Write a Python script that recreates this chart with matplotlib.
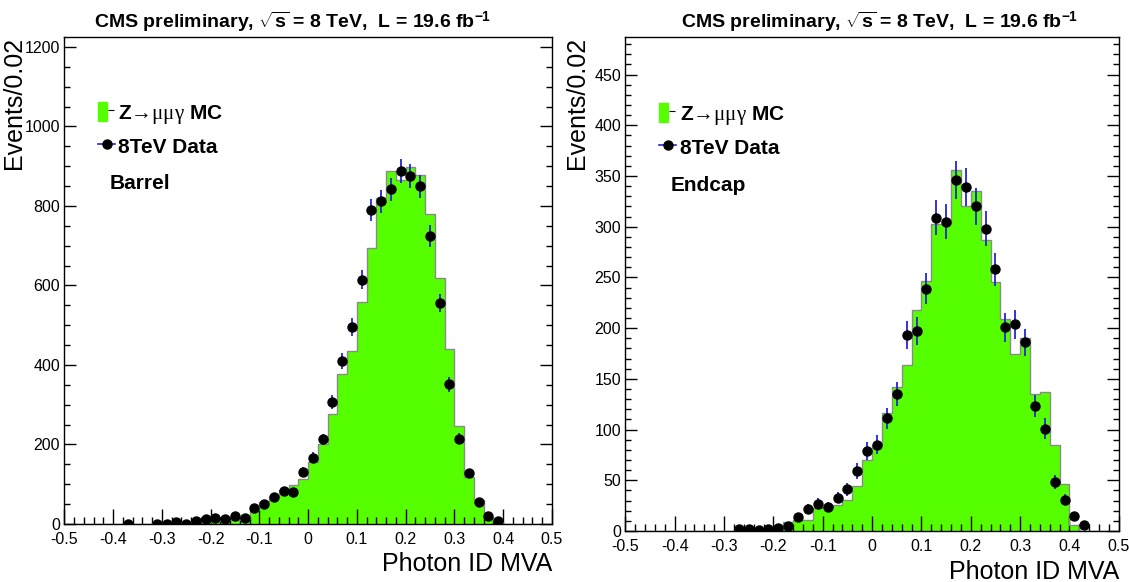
import numpy as np
import matplotlib
matplotlib.use('Agg')
import matplotlib.pyplot as plt
from matplotlib.ticker import MultipleLocator, FuncFormatter
from matplotlib.patches import Patch
from matplotlib.lines import Line2D
from matplotlib.legend_handler import HandlerTuple

plt.rcParams['font.family'] = ['Liberation Sans', 'DejaVu Sans']
plt.rcParams['axes.unicode_minus'] = False
plt.rcParams['mathtext.fontset'] = 'custom'
plt.rcParams['mathtext.rm'] = 'Liberation Serif'
plt.rcParams['mathtext.it'] = 'Liberation Serif:italic'
plt.rcParams['mathtext.bf'] = 'Liberation Sans:bold'

# 50 bins of width 0.02 on [-0.5, 0.5]
edges = np.linspace(-0.5, 0.5, 51)
centers = 0.5 * (edges[1:] + edges[:-1])

# barrel: Z->mumugamma MC and 2012 data, events per bin
mc_barrel = [0, 0, 0, 0, 0, 0, 1, 1, 1, 2,
             2, 3, 4, 5, 6, 8, 9, 10, 12, 35,
             56, 68, 86, 99, 114, 155, 200, 276, 378, 435,
             559, 695, 819, 889, 865, 897, 878, 780, 620, 441,
             246, 118, 60, 14, 6, 0, 0, 0, 0, 0]
data_barrel = [0, 0, 0, 0, 0, 0, 1, 0, 0, 1,
               1, 6, 1, 8, 12, 15, 12, 21, 16, 41,
               50, 69, 82, 81, 132, 167, 213, 306, 410, 495,
               615, 789, 812, 842, 888, 876, 849, 724, 556, 352,
               215, 127, 56, 19, 8, 0, 0, 0, 0, 0]

# endcap
mc_endcap = [0, 0, 0, 0, 0, 0, 0, 0, 0, 0,
             0, 0, 0, 0, 0, 0, 9, 11, 11, 23,
             24, 26, 31, 44, 70, 85, 116, 142, 164, 218,
             246, 303, 303, 356, 320, 335, 287, 245, 209, 175,
             190, 135, 137, 85, 46, 6, 0, 0, 0, 0]
data_endcap = [0, 0, 0, 0, 0, 0, 0, 0, 0, 0,
               0, 2, 2, 1, 2, 3, 5, 14, 22, 27,
               24, 33, 41, 59, 79, 85, 111, 135, 193, 197,
               239, 309, 305, 346, 339, 320, 298, 258, 201, 204,
               186, 123, 101, 48, 31, 15, 6, 0, 0, 0]

regions = ['Barrel', 'Endcap']
mc_sets = [mc_barrel, mc_endcap]
data_sets = [data_barrel, data_endcap]
ymax = [1225, 487]
ymajor = [200, 50]
yminor = [50, 10]

title = r'CMS preliminary, $\sqrt{\mathbf{s}}$ = 8 TeV,  L = 19.6 fb$^{\mathbf{-1}}$'
mc_label = r'$\mathbf{Z}\mathrm{→μμγ}$ MC'
data_label = '8TeV Data'

green = '#55ff00'
blue = '#2424d8'

fig = plt.figure(figsize=(11.29, 5.82), dpi=100)
axes_pos = [[0.0570, 0.0997, 0.4318, 0.8367],
            [0.5539, 0.0876, 0.4371, 0.8488]]
ylab_x = [-0.079, -0.074]
title_x = [0.2595, 0.779]

for k in range(2):
    ax = fig.add_axes(axes_pos[k])
    mc = np.array(mc_sets[k], dtype=float)
    data = np.array(data_sets[k], dtype=float)

    ax.stairs(mc, edges, fill=True, color=green, zorder=1)
    ax.stairs(mc, edges, color='#8a8a8a', lw=1.0, zorder=2)

    sel = data > 0
    ax.errorbar(centers[sel], data[sel], yerr=np.sqrt(data[sel]), fmt='o',
                color='black', ecolor=blue, elinewidth=1.3, markersize=6.5,
                capsize=0, zorder=3)

    ax.set_xlim(-0.5, 0.5)
    ax.set_ylim(0, ymax[k])
    ax.xaxis.set_major_locator(MultipleLocator(0.1))
    ax.xaxis.set_minor_locator(MultipleLocator(0.02))
    ax.yaxis.set_major_locator(MultipleLocator(ymajor[k]))
    ax.yaxis.set_minor_locator(MultipleLocator(yminor[k]))
    ax.xaxis.set_major_formatter(FuncFormatter(lambda v, p: '%g' % round(v, 2)))
    ax.tick_params(axis='x', which='both', direction='in', bottom=True, top=False,
                   labelsize=11.5, pad=6)
    ax.tick_params(axis='x', which='major', length=10.8, width=1)
    ax.tick_params(axis='x', which='minor', length=5, width=1)
    ax.tick_params(axis='y', which='both', direction='in', left=True, right=True,
                   labelsize=11.5, pad=3)
    ax.tick_params(axis='y', which='major', length=8.6, width=1)
    ax.tick_params(axis='y', which='minor', length=4.3, width=1)
    for s in ax.spines.values():
        s.set_linewidth(1.0)

    ax.set_xlabel('Photon ID MVA', fontsize=18, loc='right')
    ax.xaxis.set_label_coords(1.0, -0.058)
    ax.set_ylabel('Events/0.02', fontsize=18, loc='top')
    ax.yaxis.set_label_coords(ylab_x[k], 1.0)

    # legend: green box with a short dash, data dot on a blue bar
    h_mc = (Patch(facecolor=green, edgecolor=green),
            Line2D([], [], ls='none', marker='_', color='black',
                   markersize=5, markeredgewidth=0.8))
    h_data = Line2D([], [], color=blue, lw=1.2, marker='o', markersize=6.5,
                    markerfacecolor='black', markeredgecolor='black')
    ax.legend([h_mc, h_data], [mc_label, data_label], loc='upper left',
              bbox_to_anchor=(0.069, 0.866), frameon=False, borderpad=0,
              borderaxespad=0, handlelength=0.82, handleheight=1.0,
              handletextpad=0.15, labelspacing=0.5,
              prop={'weight': 'bold', 'size': 15},
              handler_map={tuple: HandlerTuple(ndivide=None)})
    ax.text(0.092, 0.70, regions[k], transform=ax.transAxes, fontsize=15,
            fontweight='bold', ha='left', va='center')

    fig.text(title_x[k], 0.962, title, fontsize=14, fontweight='bold',
             ha='center', va='center')

fig.savefig('out.png', dpi=100)
